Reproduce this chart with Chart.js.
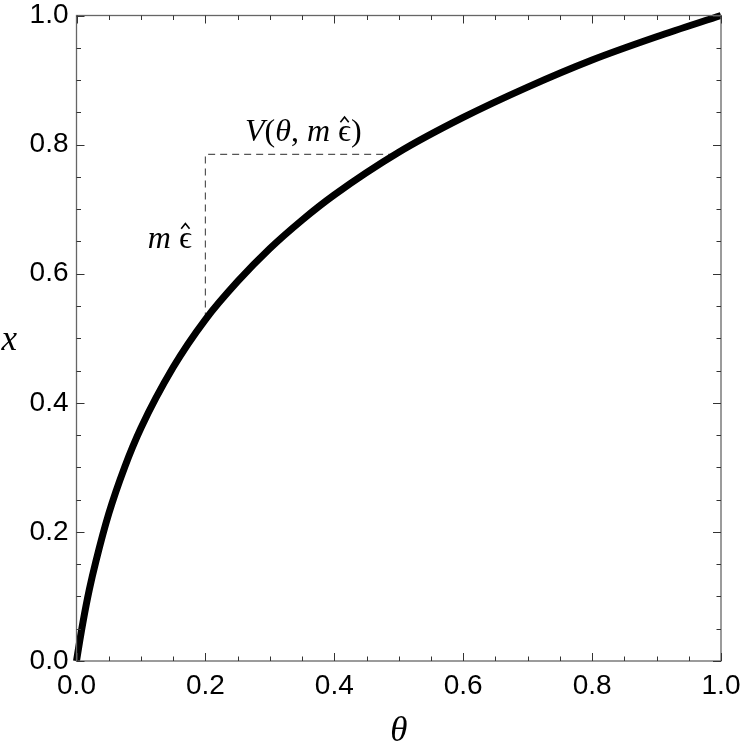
<!DOCTYPE html>
<html>
<head>
<meta charset="utf-8">
<script src="https://cdn.jsdelivr.net/npm/chart.js@4.4.0/dist/chart.umd.min.js"></script>
<style>
  html, body { margin: 0; padding: 0; background: #fff; }
  #wrap { width: 742px; height: 750px; }
</style>
</head>
<body>
<div id="wrap"><canvas id="myChart"></canvas></div>
<script>
// curve: theta -> x
const theta = [0, 0.005, 0.01, 0.02, 0.03, 0.05, 0.075, 0.1, 0.15, 0.2, 0.25, 0.3, 0.35, 0.4, 0.5, 0.6, 0.7, 0.8, 0.9, 1.0];
const xVals = [0, 0.031, 0.060, 0.111, 0.154, 0.228, 0.301, 0.361, 0.455, 0.529, 0.588, 0.639, 0.683, 0.722, 0.788, 0.842, 0.889, 0.931, 0.967, 1.0];

// dashed guide (vertical m eps, then horizontal V)
const guideTheta = [0.2, 0.2, 0.5];
const guideX = [0.529, 0.785, 0.785];

const tickLabels = ['0.0', '0.2', '0.4', '0.6', '0.8', '1.0'];

const tickFont = { family: "'Liberation Sans', Arial, sans-serif", size: 28 };
const serif = "'Liberation Serif', 'DejaVu Serif', serif";

function labelFor(v) {
  const i = Math.round(v / 0.2);
  return Math.abs(v - i * 0.2) < 1e-6 ? tickLabels[i] : '';
}

// draws text made of runs, some italic, some with a hat on top
function drawRuns(ctx, runs, x, y, size, align) {
  let total = 0;
  runs.forEach(r => {
    ctx.font = (r.i ? 'italic ' : '') + size + 'px ' + serif;
    r.w = ctx.measureText(r.t).width;
    total += r.w;
  });
  let cx = align === 'center' ? x - total / 2 : align === 'right' ? x - total : x;
  ctx.textAlign = 'left';
  ctx.textBaseline = 'alphabetic';
  runs.forEach(r => {
    ctx.font = (r.i ? 'italic ' : '') + size + 'px ' + serif;
    ctx.fillText(r.t, cx, y);
    if (r.hat) {
      // circumflex above the glyph
      const hx = cx + r.w / 2, hy = y - size * 0.6;
      ctx.save();
      ctx.lineWidth = size * 0.05;
      ctx.strokeStyle = '#000';
      ctx.beginPath();
      ctx.moveTo(hx - size * 0.13, hy);
      ctx.lineTo(hx, hy - size * 0.16);
      ctx.lineTo(hx + size * 0.13, hy);
      ctx.stroke();
      ctx.restore();
    }
    cx += r.w;
  });
}

const framePlugin = {
  id: 'frame',
  afterDraw(chart) {
    const ctx = chart.ctx;
    const a = chart.chartArea;
    const xs = chart.scales.x, ys = chart.scales.y;
    ctx.save();
    // frame
    ctx.strokeStyle = '#666';
    ctx.lineWidth = 1.3;
    ctx.strokeRect(a.left, a.top, a.right - a.left, a.bottom - a.top);
    // inward ticks on all sides
    ctx.strokeStyle = '#333';
    ctx.lineWidth = 1;
    for (let k = 0; k <= 20; k++) {
      const v = k * 0.05;
      const len = k % 4 === 0 ? 8 : 4.5;
      const px = Math.round(xs.getPixelForValue(v)) + 0.5;
      const py = Math.round(ys.getPixelForValue(v)) + 0.5;
      ctx.beginPath();
      ctx.moveTo(px, a.bottom); ctx.lineTo(px, a.bottom - len);
      ctx.moveTo(px, a.top); ctx.lineTo(px, a.top + len);
      ctx.moveTo(a.left, py); ctx.lineTo(a.left + len, py);
      ctx.moveTo(a.right, py); ctx.lineTo(a.right - len, py);
      ctx.stroke();
    }
    // annotations
    ctx.fillStyle = '#000';
    drawRuns(ctx, [
      { t: 'V', i: true }, { t: '(', i: false }, { t: '\u03B8', i: true },
      { t: ', ', i: false }, { t: 'm', i: true }, { t: ' ', i: false },
      { t: '\u03F5', i: false, hat: true }, { t: ')', i: false }
    ], xs.getPixelForValue(0.352), ys.getPixelForValue(0.805), 32, 'center');
    drawRuns(ctx, [{ t: 'm', i: true }, { t: ' ', i: false }, { t: '\u03F5', i: false, hat: true }],
      xs.getPixelForValue(0.179), ys.getPixelForValue(0.64), 32, 'right');
    // axis titles
    drawRuns(ctx, [{ t: '\u03B8', i: true }], xs.getPixelForValue(0.5), a.bottom + 80, 35, 'center');
    drawRuns(ctx, [{ t: 'x', i: true }], a.left - 75, ys.getPixelForValue(0.482), 35, 'left');
    ctx.restore();
  }
};

const ctx = document.getElementById('myChart');
new Chart(ctx, {
  type: 'scatter',
  data: {
    datasets: [{
      data: theta.map((t, i) => ({ x: t, y: xVals[i] })),
      showLine: true,
      borderColor: '#000',
      borderWidth: 7,
      pointRadius: 0,
      cubicInterpolationMode: 'monotone',
      clip: 4
    }, {
      data: guideTheta.map((t, i) => ({ x: t, y: guideX[i] })),
      showLine: true,
      borderColor: '#555',
      borderWidth: 1.2,
      borderDash: [7, 5],
      pointRadius: 0,
      tension: 0
    }]
  },
  options: {
    responsive: true,
    maintainAspectRatio: false,
    animation: false,
    devicePixelRatio: 1,
    layout: { padding: { top: 15.5, right: 21, left: 0, bottom: 0 } },
    plugins: { legend: { display: false }, tooltip: { enabled: false } },
    scales: {
      x: {
        type: 'linear', min: 0, max: 1,
        grid: { display: false, drawTicks: false },
        border: { display: false },
        ticks: { stepSize: 0.2, padding: 8, color: '#000', font: tickFont, callback: labelFor, maxRotation: 0 },
        afterFit: s => { s.height = 89; s.paddingLeft = 0; s.paddingRight = 0; }
      },
      y: {
        type: 'linear', min: 0, max: 1,
        grid: { display: false, drawTicks: false },
        border: { display: false },
        ticks: { stepSize: 0.2, padding: 8, color: '#000', font: tickFont, callback: labelFor },
        afterFit: s => { s.width = 76.5; s.paddingTop = 0; s.paddingBottom = 0; }
      }
    }
  },
  plugins: [framePlugin]
});
</script>
</body>
</html>
